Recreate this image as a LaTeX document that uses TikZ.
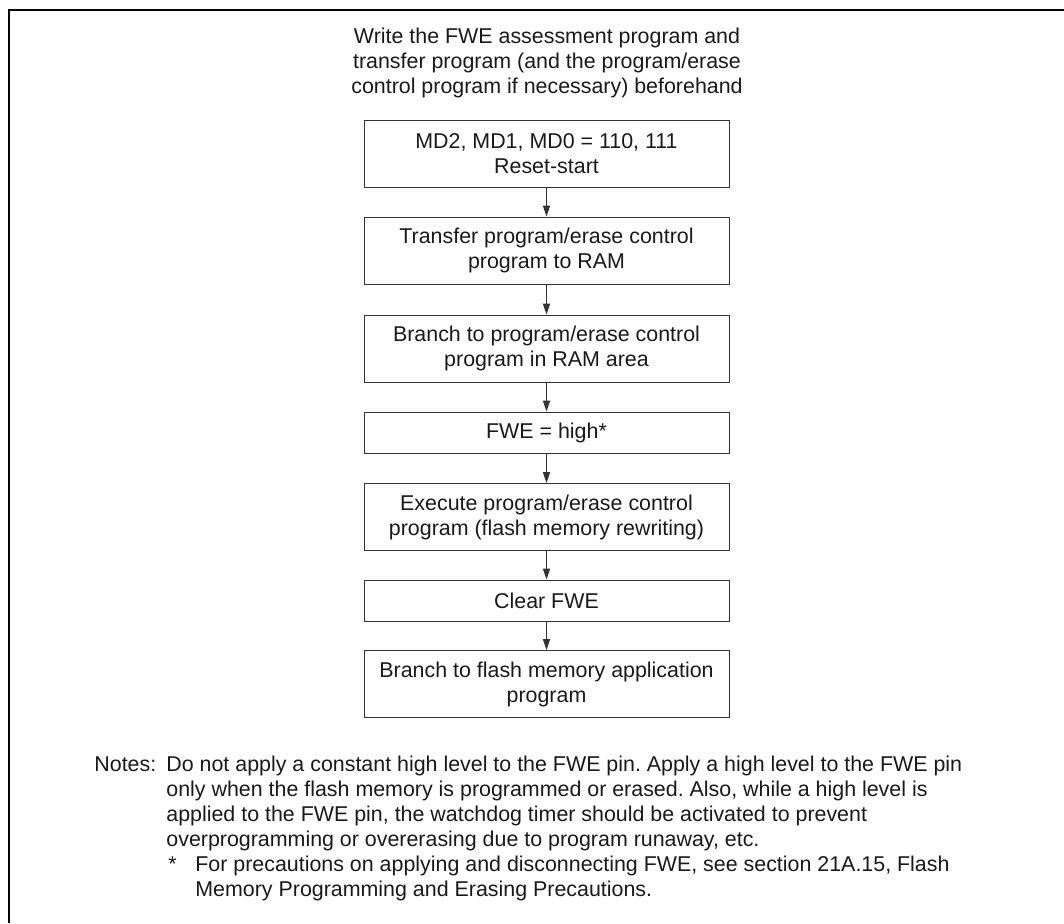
\documentclass[tikz,border=0pt]{standalone}
\usepackage{fontspec}
\setmainfont{Liberation Sans}
\usetikzlibrary{arrows.meta}
\begin{document}
\frenchspacing
\begin{tikzpicture}[
  x=0.5pt, y=-0.5pt,
  every node/.style={font=\fontsize{10.7}{12.5}\selectfont, text=black!90},
  stepbox/.style={draw=black!80, line width=0.5pt, minimum width=182.5pt, align=center, inner sep=0pt},
  tallbox/.style={stepbox, minimum height=33.5pt},
  flatbox/.style={stepbox, minimum height=20.5pt},
  notetext/.style={anchor=north west, inner sep=0pt, align=left},
  >={Triangle[length=5.5pt,width=3.6pt]}
]
\useasboundingbox (0,0) rectangle (1064,923);

% Frame
\draw[line width=1pt] (8.5,923) -- (8.5,10) -- (1064,10);

% Heading
\node[align=center] (head) at (547,63)
  {Write the FWE assessment program and\\transfer program (and the program/erase\\control program if necessary) beforehand};

% Steps
\node[tallbox] (reset)   at (546.5,154)   {MD2, MD1, MD0 = 110, 111\\Reset-start};
\node[tallbox] (xfer)    at (546.5,250.5) {Transfer program/erase control\\program to RAM};
\node[tallbox] (branch)  at (546.5,348.5) {Branch to program/erase control\\program in RAM area};
\node[flatbox] (fwehigh) at (546.5,432.5) {FWE = high*};
\node[tallbox] (exec)    at (546.5,517)   {Execute program/erase control\\program (flash memory rewriting)};
\node[flatbox] (clear)   at (546.5,600.5) {Clear FWE};
\node[tallbox] (app)     at (546.5,684)   {Branch to flash memory application\\program};

\foreach \a/\b in {reset/xfer, xfer/branch, branch/fwehigh, fwehigh/exec, exec/clear, clear/app}
  \draw[->, draw=black!80, line width=0.5pt] (\a) -- (\b);

% Notes
\node[notetext] (notes) at (94,753.5) {\strut Notes:};
\node[notetext] (notebody) at (166,753.5)
  {\strut Do not apply a constant high level to the FWE pin. Apply a high level to the FWE pin\\
   only when the flash memory is programmed or erased. Also, while a high level is\\
   applied to the FWE pin, the watchdog timer should be activated to prevent\\
   overprogramming or overerasing due to program runaway, etc.};
\node[notetext] (star) at (168,853.5) {\strut *};
\node[notetext] (starbody) at (195,853.5)
  {\strut For precautions on applying and disconnecting FWE, see section 21A.15, Flash\\
   Memory Programming and Erasing Precautions.};
\end{tikzpicture}
\end{document}
